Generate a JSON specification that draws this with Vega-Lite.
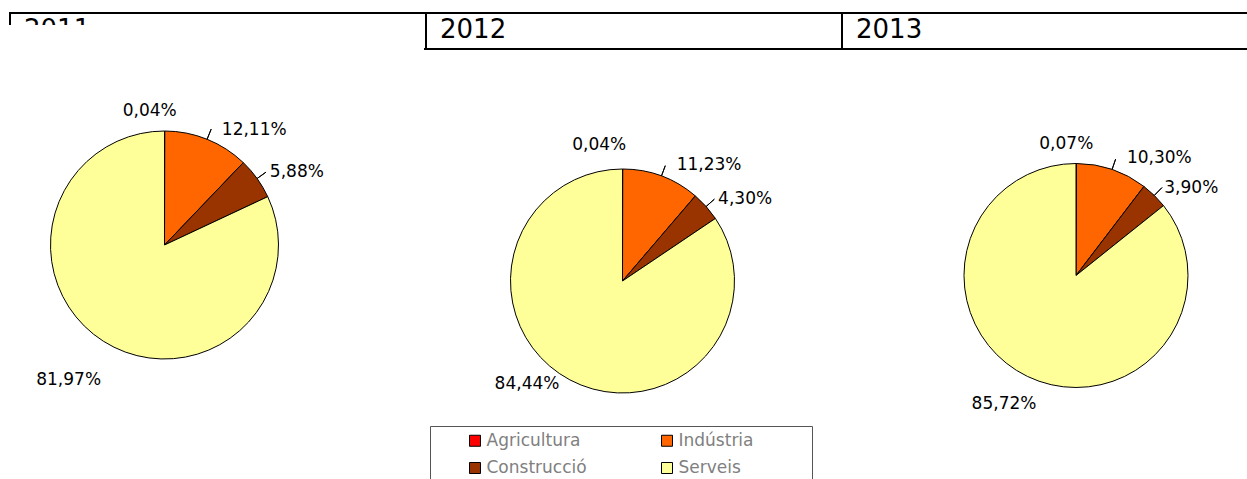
{
  "$schema": "https://vega.github.io/schema/vega-lite/v6.json",
  "width": 1247,
  "height": 479,
  "autosize": {"type": "none"},
  "padding": 0,
  "background": "white",
  "config": {
    "view": {"stroke": null},
    "locale": {"number": {"decimal": ",", "thousands": ".", "grouping": [3], "currency": ["", "%"]}}
  },
  "datasets": {
    "pies": [
      {"year": 2011, "cat": "Agricultura", "ord": 1, "value": 0.04},
      {"year": 2011, "cat": "Indústria", "ord": 2, "value": 12.11},
      {"year": 2011, "cat": "Construcció", "ord": 3, "value": 5.88},
      {"year": 2011, "cat": "Serveis", "ord": 4, "value": 81.97},
      {"year": 2012, "cat": "Agricultura", "ord": 1, "value": 0.04},
      {"year": 2012, "cat": "Indústria", "ord": 2, "value": 11.23},
      {"year": 2012, "cat": "Construcció", "ord": 3, "value": 4.30},
      {"year": 2012, "cat": "Serveis", "ord": 4, "value": 84.44},
      {"year": 2013, "cat": "Agricultura", "ord": 1, "value": 0.07},
      {"year": 2013, "cat": "Indústria", "ord": 2, "value": 10.30},
      {"year": 2013, "cat": "Construcció", "ord": 3, "value": 3.90},
      {"year": 2013, "cat": "Serveis", "ord": 4, "value": 85.72}
    ],
    "years": [{"year": 2011}, {"year": 2012}, {"year": 2013}]
  },
  "resolve": {"scale": {"x": "independent", "y": "independent", "radius": "independent"}},
  "layer": [
    {
      "data": {"name": "years"},
      "mark": {"type": "rect", "filled": false, "stroke": "black", "strokeWidth": 2, "y": 13, "y2": 49},
      "encoding": {
        "x": {"field": "year", "type": "nominal", "axis": null,
              "scale": {"type": "band", "domain": [2011, 2012, 2013], "range": [10, 1258], "paddingInner": 0, "paddingOuter": 0}}
      }
    },
    {
      "data": {"name": "years"},
      "mark": {"type": "text", "align": "left", "baseline": "alphabetic", "y": 38, "dx": 14, "font": "DejaVu Sans", "fontSize": 26, "color": "black"},
      "encoding": {
        "x": {"field": "year", "type": "nominal", "bandPosition": 0, "axis": null,
              "scale": {"type": "band", "domain": [2011, 2012, 2013], "range": [10, 1258], "paddingInner": 0, "paddingOuter": 0}},
        "text": {"field": "year", "type": "nominal"}
      }
    },
    {
      "data": {"values": [{"part": "cover"}]},
      "mark": {"type": "rect", "fill": "white", "x": 0, "x2": 424, "y": 25, "y2": 53},
      "encoding": {}
    },
    {
      "data": {"values": [{"part": "legendframe"}]},
      "mark": {"type": "rect", "filled": false, "stroke": "#555555", "strokeWidth": 1, "x": 430.5, "x2": 812.5, "y": 426.5, "y2": 500},
      "encoding": {}
    },
    {
      "data": {"name": "pies"},
      "mark": {"type": "arc", "stroke": "black", "strokeWidth": 1},
      "encoding": {
        "x": {"field": "year", "type": "quantitative", "axis": null,
              "scale": {"domain": [2011, 2012, 2013], "range": [164.5, 622.5, 1076], "zero": false, "nice": false}},
        "y": {"field": "year", "type": "quantitative", "axis": null,
              "scale": {"domain": [2011, 2012, 2013], "range": [245, 281, 275.5], "zero": false, "nice": false}},
        "theta": {"field": "value", "type": "quantitative", "stack": "normalize"},
        "radius": {"field": "year", "type": "quantitative",
                   "scale": {"type": "linear", "domain": [2011, 2012, 2013], "range": [114, 112, 112], "zero": false, "nice": false}},
        "radius2": {"value": 0},
        "order": {"field": "ord", "type": "quantitative"},
        "color": {"field": "cat", "type": "nominal",
                  "scale": {"domain": ["Agricultura", "Indústria", "Construcció", "Serveis"], "range": ["#FF0000", "#FF6600", "#993300", "#FFFF99"]},
                  "legend": {"orient": "none", "legendX": 466.5, "legendY": 432, "columns": 2, "direction": "horizontal", "title": null,
                             "symbolType": "square", "symbolSize": 121, "symbolStrokeColor": "black", "symbolStrokeWidth": 1, "symbolOpacity": 1,
                             "labelFont": "DejaVu Sans", "labelFontSize": 17, "labelColor": "#808080", "labelOffset": 3,
                             "columnPadding": 71, "rowPadding": 9.5, "padding": 0}}
      }
    },
    {
      "data": {"name": "pies"},
      "mark": {"type": "arc", "filled": false, "stroke": "black", "strokeWidth": 1, "padAngle": 1.44, "radiusOffset": 11},
      "encoding": {
        "x": {"field": "year", "type": "quantitative", "axis": null,
              "scale": {"domain": [2011, 2012, 2013], "range": [164.5, 622.5, 1076], "zero": false, "nice": false}},
        "y": {"field": "year", "type": "quantitative", "axis": null,
              "scale": {"domain": [2011, 2012, 2013], "range": [245, 281, 275.5], "zero": false, "nice": false}},
        "theta": {"field": "value", "type": "quantitative", "stack": "normalize"},
        "radius": {"field": "year", "type": "quantitative",
                   "scale": {"type": "linear", "domain": [2011, 2012, 2013], "range": [114, 112, 112], "zero": false, "nice": false}},
        "radius2": {"field": "year"},
        "order": {"field": "ord", "type": "quantitative"},
        "detail": {"field": "cat", "type": "nominal"},
        "opacity": {"condition": {"test": "datum.cat === 'Indústria' || datum.cat === 'Construcció'", "value": 1}, "value": 0}
      }
    },
    {
      "data": {"name": "pies"},
      "mark": {"type": "text", "align": "left", "baseline": "middle", "dx": 11, "font": "DejaVu Sans", "fontSize": 17, "color": "black"},
      "encoding": {
        "x": {"field": "year", "type": "quantitative", "axis": null,
              "scale": {"domain": [2011, 2012, 2013], "range": [164.5, 622.5, 1076], "zero": false, "nice": false}},
        "y": {"field": "year", "type": "quantitative", "axis": null,
              "scale": {"domain": [2011, 2012, 2013], "range": [245, 281, 275.5], "zero": false, "nice": false}},
        "theta": {"field": "value", "type": "quantitative", "stack": "normalize"},
        "radius": {"field": "year", "type": "quantitative",
                   "scale": {"type": "linear", "domain": [2011, 2012, 2013], "range": [124, 124, 124], "zero": false, "nice": false}},
        "order": {"field": "ord", "type": "quantitative"},
        "detail": {"field": "cat", "type": "nominal"},
        "text": {"field": "value", "type": "quantitative", "format": "$.2f"},
        "opacity": {"condition": {"test": "datum.cat === 'Indústria'", "value": 1}, "value": 0}
      }
    },
    {
      "data": {"name": "pies"},
      "mark": {"type": "text", "align": "left", "baseline": "middle", "dx": 3, "font": "DejaVu Sans", "fontSize": 17, "color": "black"},
      "encoding": {
        "x": {"field": "year", "type": "quantitative", "axis": null,
              "scale": {"domain": [2011, 2012, 2013], "range": [164.5, 622.5, 1076], "zero": false, "nice": false}},
        "y": {"field": "year", "type": "quantitative", "axis": null,
              "scale": {"domain": [2011, 2012, 2013], "range": [245, 281, 275.5], "zero": false, "nice": false}},
        "theta": {"field": "value", "type": "quantitative", "stack": "normalize"},
        "radius": {"field": "year", "type": "quantitative",
                   "scale": {"type": "linear", "domain": [2011, 2012, 2013], "range": [126, 124, 122], "zero": false, "nice": false}},
        "order": {"field": "ord", "type": "quantitative"},
        "detail": {"field": "cat", "type": "nominal"},
        "text": {"field": "value", "type": "quantitative", "format": "$.2f"},
        "opacity": {"condition": {"test": "datum.cat === 'Construcció'", "value": 1}, "value": 0}
      }
    },
    {
      "data": {"name": "pies"},
      "mark": {"type": "text", "align": "center", "baseline": "middle", "dx": -15, "font": "DejaVu Sans", "fontSize": 17, "color": "black"},
      "encoding": {
        "x": {"field": "year", "type": "quantitative", "axis": null,
              "scale": {"domain": [2011, 2012, 2013], "range": [164.5, 614, 1081], "zero": false, "nice": false}},
        "y": {"field": "year", "type": "quantitative", "axis": null,
              "scale": {"domain": [2011, 2012, 2013], "range": [245, 281, 275.5], "zero": false, "nice": false}},
        "theta": {"field": "value", "type": "quantitative", "stack": "normalize"},
        "radius": {"field": "year", "type": "quantitative",
                   "scale": {"type": "linear", "domain": [2011, 2012, 2013], "range": [134, 136, 132], "zero": false, "nice": false}},
        "order": {"field": "ord", "type": "quantitative"},
        "detail": {"field": "cat", "type": "nominal"},
        "text": {"field": "value", "type": "quantitative", "format": "$.2f"},
        "opacity": {"condition": {"test": "datum.cat === 'Agricultura'", "value": 1}, "value": 0}
      }
    },
    {
      "data": {"name": "pies"},
      "mark": {"type": "text", "align": "center", "baseline": "middle", "dx": -10, "font": "DejaVu Sans", "fontSize": 17, "color": "black"},
      "encoding": {
        "x": {"field": "year", "type": "quantitative", "axis": null,
              "scale": {"domain": [2011, 2012, 2013], "range": [164.5, 592, 1076], "zero": false, "nice": false}},
        "y": {"field": "year", "type": "quantitative", "axis": null,
              "scale": {"domain": [2011, 2012, 2013], "range": [245, 281, 275.5], "zero": false, "nice": false}},
        "theta": {"field": "value", "type": "quantitative", "stack": "normalize"},
        "radius": {"field": "year", "type": "quantitative",
                   "scale": {"type": "linear", "domain": [2011, 2012, 2013], "range": [160, 117, 143], "zero": false, "nice": false}},
        "order": {"field": "ord", "type": "quantitative"},
        "detail": {"field": "cat", "type": "nominal"},
        "text": {"field": "value", "type": "quantitative", "format": "$.2f"},
        "opacity": {"condition": {"test": "datum.cat === 'Serveis'", "value": 1}, "value": 0}
      }
    }
  ]
}
